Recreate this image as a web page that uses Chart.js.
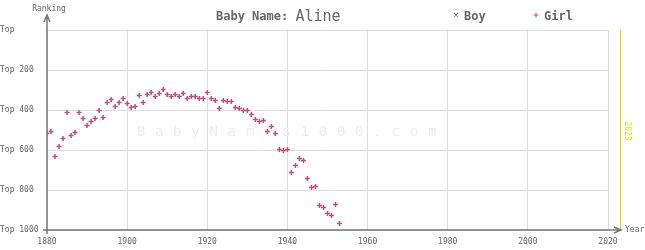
<!DOCTYPE html>
<html>
<head>
<meta charset="utf-8">
<style>
  html, body { margin: 0; padding: 0; background: #fff; }
  #myChart { display: block; }
</style>
<script src="https://cdn.jsdelivr.net/npm/chart.js@4"></script>
</head>
<body>
<canvas id="myChart" width="645" height="250"></canvas>
<script>
const babyName = 'Aline';
const currentYear = 2023;

const girlYears = [
  1880, 1881, 1882, 1883, 1884, 1885, 1886, 1887, 1888, 1889,
  1890, 1891, 1892, 1893, 1894, 1895, 1896, 1897, 1898, 1899,
  1900, 1901, 1902, 1903, 1904, 1905, 1906, 1907, 1908, 1909,
  1910, 1911, 1912, 1913, 1914, 1915, 1916, 1917, 1918, 1919,
  1920, 1921, 1922, 1923, 1924, 1925, 1926, 1927, 1928, 1929,
  1930, 1931, 1932, 1933, 1934, 1935, 1936, 1937, 1938, 1939,
  1940, 1941, 1942, 1943, 1944, 1945, 1946, 1947, 1948, 1949,
  1950, 1951, 1952, 1953
];
const girlRanks = [
  517, 507, 632, 582, 542, 412, 527, 512, 412, 442,
  477, 457, 442, 402, 437, 362, 347, 382, 362, 342,
  367, 387, 382, 327, 362, 322, 312, 332, 317, 297,
  322, 332, 322, 332, 317, 342, 332, 332, 342, 342,
  312, 342, 352, 392, 352, 357, 357, 387, 392, 402,
  402, 422, 447, 457, 452, 507, 482, 517, 597, 602,
  597, 712, 677, 642, 652, 742, 787, 782, 877, 887,
  917, 927, 872, 967
];
const boyYears = [];
const boyRanks = [];

const yTicks = [0, 200, 400, 600, 800, 1000];
const xTicks = [1880, 1900, 1920, 1940, 1960, 1980, 2000, 2020];

const girlColor = '#c0507a';
const boyColor = '#7a88a8';
const textColor = '#666';
const axisColor = '#777';
const mono = '"DejaVu Sans Mono", monospace';

function toPoints(xs, ys) {
  return xs.map((x, i) => ({ x: x, y: ys[i] }));
}

const overlay = {
  id: 'overlay',
  beforeDatasetsDraw(chart) {
    const ctx = chart.ctx;
    const text = 'BabyNames1000.com';
    const step = 18.2;
    const cx = 286.5;
    const start = cx - step * (text.length - 1) / 2;
    ctx.save();
    ctx.fillStyle = '#ececec';
    ctx.font = '14px ' + mono;
    ctx.textAlign = 'center';
    ctx.textBaseline = 'middle';
    for (let i = 0; i < text.length; i++) {
      ctx.fillText(text[i], start + i * step, 132);
    }
    ctx.restore();
  },
  afterDraw(chart) {
    const ctx = chart.ctx;
    const xs = chart.scales.x, ys = chart.scales.y;
    const left = xs.getPixelForValue(1880);
    const bottom = ys.getPixelForValue(1000);
    const yearX = xs.getPixelForValue(currentYear);
    ctx.save();

    // current year marker
    ctx.strokeStyle = '#f2d200';
    ctx.lineWidth = 1;
    ctx.beginPath();
    ctx.moveTo(Math.round(yearX) + 0.5, ys.getPixelForValue(0));
    ctx.lineTo(Math.round(yearX) + 0.5, bottom);
    ctx.stroke();
    ctx.save();
    ctx.translate(yearX + 7, 131);
    ctx.rotate(Math.PI / 2);
    ctx.fillStyle = '#f2d200';
    ctx.font = '8px ' + mono;
    ctx.textAlign = 'center';
    ctx.textBaseline = 'middle';
    ctx.fillText(String(currentYear), 0, 0);
    ctx.restore();

    // axes with arrows
    ctx.strokeStyle = axisColor;
    ctx.lineWidth = 1.5;
    ctx.beginPath();
    ctx.moveTo(left, bottom + 4);
    ctx.lineTo(left, 15);
    ctx.moveTo(left - 3, 22);
    ctx.lineTo(left, 15);
    ctx.lineTo(left + 3, 22);
    ctx.moveTo(left - 4, bottom);
    ctx.lineTo(621, bottom);
    ctx.moveTo(614, bottom - 3);
    ctx.lineTo(621, bottom);
    ctx.lineTo(614, bottom + 3);
    ctx.stroke();

    ctx.fillStyle = textColor;
    ctx.font = '8px ' + mono;
    ctx.textBaseline = 'middle';
    ctx.textAlign = 'center';
    ctx.fillText('Ranking', 49, 9);
    ctx.textAlign = 'left';
    ctx.fillText('Year', 625, bottom);

    // title
    ctx.textBaseline = 'alphabetic';
    ctx.font = 'bold 12px ' + mono;
    const label = 'Baby Name: ';
    ctx.fillText(label, 216, 20);
    const w = ctx.measureText(label).width;
    ctx.font = '15px ' + mono;
    ctx.fillText(babyName, 216 + w, 21);

    // legend
    chart.data.datasets.forEach((ds, i) => {
      const lx = i === 0 ? 456 : 536;
      ctx.strokeStyle = ds.borderColor;
      ctx.lineWidth = 1;
      ctx.beginPath();
      if (ds.pointStyle === 'crossRot') {
        ctx.moveTo(lx - 2, 13); ctx.lineTo(lx + 2, 17);
        ctx.moveTo(lx + 2, 13); ctx.lineTo(lx - 2, 17);
      } else {
        ctx.moveTo(lx - 2.5, 15); ctx.lineTo(lx + 2.5, 15);
        ctx.moveTo(lx, 12.5); ctx.lineTo(lx, 17.5);
      }
      ctx.stroke();
      ctx.fillStyle = textColor;
      ctx.font = 'bold 12px ' + mono;
      ctx.textBaseline = 'alphabetic';
      ctx.fillText(ds.label, lx + 8, 20);
    });
    ctx.restore();
  }
};

const config = {
  type: 'scatter',
  data: {
    datasets: [
      {
        label: 'Boy',
        data: toPoints(boyYears, boyRanks),
        pointStyle: 'crossRot',
        borderColor: boyColor,
        backgroundColor: boyColor,
        pointRadius: 2.5,
        borderWidth: 1.5
      },
      {
        label: 'Girl',
        data: toPoints(girlYears, girlRanks),
        pointStyle: 'cross',
        borderColor: girlColor,
        backgroundColor: girlColor,
        pointRadius: 2.5,
        borderWidth: 1.5
      }
    ]
  },
  options: {
    responsive: false,
    animation: false,
    layout: { padding: { top: 30, right: 37, left: 0, bottom: 0 } },
    plugins: {
      legend: { display: false },
      title: { display: false },
      tooltip: { enabled: false }
    },
    scales: {
      x: {
        type: 'linear',
        min: 1880,
        max: 2020,
        afterFit(scale) { scale.height = 20; },
        afterBuildTicks(scale) { scale.ticks = xTicks.map(v => ({ value: v })); },
        border: { display: false },
        grid: { color: '#dddddd', lineWidth: 1, drawTicks: false },
        ticks: {
          padding: 7,
          color: textColor,
          font: { family: mono, size: 8 },
          maxRotation: 0,
          callback: v => String(v)
        }
      },
      y: {
        type: 'linear',
        reverse: true,
        min: 0,
        max: 1000,
        afterFit(scale) { scale.width = 47; },
        afterBuildTicks(scale) { scale.ticks = yTicks.map(v => ({ value: v })); },
        border: { display: false },
        grid: { color: '#dddddd', lineWidth: 1, drawTicks: false },
        ticks: {
          crossAlign: 'far',
          color: textColor,
          font: { family: mono, size: 8 },
          callback: v => v === 0 ? 'Top' : 'Top ' + v
        }
      }
    }
  },
  plugins: [overlay]
};

var myChart = new Chart(document.getElementById('myChart'), config);
</script>
</body>
</html>
